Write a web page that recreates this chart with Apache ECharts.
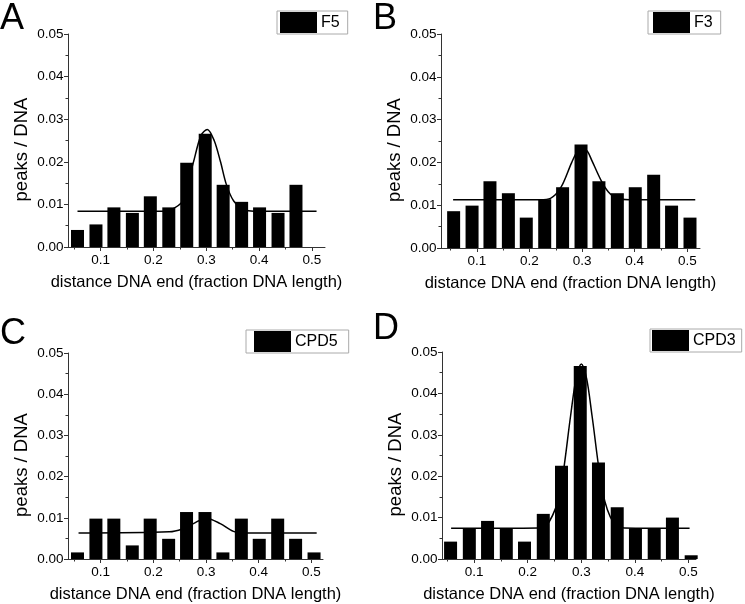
<!DOCTYPE html>
<html>
<head>
<meta charset="utf-8">
<script src="https://cdn.jsdelivr.net/npm/echarts@6/dist/echarts.min.js"></script>
<style>
  html, body { margin: 0; padding: 0; background: #fff; }
  #chart { width: 745px; height: 604px; }
</style>
</head>
<body>
<div id="chart"></div>
<script>
// bin centres (fraction of DNA length)
const binCenters = [0.056, 0.091, 0.125, 0.160, 0.194, 0.229, 0.263, 0.298, 0.332, 0.367, 0.401, 0.436, 0.470, 0.505];

const panelLetters = ['A', 'B', 'C', 'D'];
const seriesNames = ['F5', 'F3', 'CPD5', 'CPD3'];

// peaks / DNA per bin
const valuesF5 = [0.0040, 0.0053, 0.0093, 0.0080, 0.0119, 0.0093, 0.0198, 0.0266, 0.0146, 0.0106, 0.0093, 0.0080, 0.0146];
const valuesF3 = [0.0086, 0.0099, 0.0156, 0.0128, 0.0071, 0.0114, 0.0142, 0.0242, 0.0156, 0.0128, 0.0142, 0.0171, 0.0099, 0.0071];
const valuesCPD5 = [0.0016, 0.0098, 0.0098, 0.0033, 0.0098, 0.0049, 0.0114, 0.0114, 0.0016, 0.0098, 0.0049, 0.0098, 0.0049, 0.0016];
const valuesCPD3 = [0.0042, 0.0074, 0.0092, 0.0074, 0.0042, 0.0109, 0.0225, 0.0466, 0.0233, 0.0125, 0.0074, 0.0074, 0.0100, 0.0009];

// fitted curves as [x, y]
const fitF5 = [[0.056, 0.0084], [0.22, 0.0084], [0.24, 0.0092], [0.255, 0.0108], [0.275, 0.0196], [0.29, 0.0262], [0.302, 0.0276],
  [0.315, 0.0250], [0.327, 0.0200], [0.338, 0.0147], [0.352, 0.0108], [0.372, 0.0088], [0.39, 0.0084], [0.509, 0.0084]];
const fitF3 = [[0.055, 0.0113], [0.22, 0.0113], [0.24, 0.0116], [0.26, 0.0142], [0.28, 0.0199], [0.292, 0.0228], [0.30, 0.0233],
  [0.31, 0.0226], [0.318, 0.0206], [0.336, 0.0158], [0.35, 0.0131], [0.368, 0.0115], [0.39, 0.0113], [0.515, 0.0113]];
const fitCPD5 = [[0.058, 0.0063], [0.23, 0.0066], [0.255, 0.0073], [0.276, 0.0086], [0.30, 0.0099], [0.327, 0.0086],
  [0.352, 0.0067], [0.375, 0.0063], [0.51, 0.0063]];
const fitCPD3 = [[0.057, 0.0074], [0.22, 0.0075], [0.24, 0.0090], [0.26, 0.0160], [0.28, 0.0346], [0.29, 0.0435], [0.30, 0.0471],
  [0.31, 0.0435], [0.32, 0.0346], [0.34, 0.0161], [0.36, 0.0087], [0.38, 0.0075], [0.502, 0.0074]];

const xMajorTicks = [0.1, 0.2, 0.3, 0.4, 0.5];
const xMinorTicks = [0.05, 0.15, 0.25, 0.35, 0.45];

const barValues = [valuesF5, valuesF3, valuesCPD5, valuesCPD3];
const fitValues = [fitF5, fitF3, fitCPD5, fitCPD3];

// layout per panel
const grids = [
  { left: 68, top: 34, width: 257, height: 213 },
  { left: 441, top: 34, width: 259, height: 214 },
  { left: 68, top: 353, width: 255, height: 209 },
  { left: 442, top: 352, width: 254, height: 209 },
];
const xRanges = [[0.038, 0.525], [0.032, 0.524], [0.038, 0.522], [0.040, 0.514]];
const letterPos = [[0, 1], [373, 1], [0, 316], [373, 311]];
const legendPos = [
  { left: 277, top: 11, padding: [1, 8, 1, 3] },
  { left: 648, top: 11, padding: [1, 8, 1, 5] },
  { left: 246, top: 330, padding: [1, 11, 1, 8] },
  { left: 650, top: 329, padding: [1, 6, 1, 2] },
];

const FONT = '"Liberation Sans", Arial, sans-serif';
const AXIS_COLOR = '#333';

let chart = echarts.init(document.getElementById('chart'), null, { renderer: 'canvas' });

let option = {
  animation: false,
  backgroundColor: '#fff',
  textStyle: { fontFamily: FONT, color: '#000' },
  title: [],
  legend: [],
  grid: [],
  xAxis: [],
  yAxis: [],
  series: [],
};

for (let i = 0; i < 4; i++) {
  option.title.push({
    text: panelLetters[i],
    left: letterPos[i][0],
    top: letterPos[i][1],
    padding: 0,
    textStyle: { fontFamily: FONT, fontSize: 36, fontWeight: 'normal', color: '#000' },
  });

  option.legend.push({
    data: [seriesNames[i]],
    left: legendPos[i].left,
    top: legendPos[i].top,
    padding: legendPos[i].padding,
    orient: 'horizontal',
    icon: 'rect',
    itemWidth: 37,
    itemHeight: 21,
    borderColor: '#aaa',
    borderWidth: 1,
    selectedMode: false,
    textStyle: { fontFamily: FONT, fontSize: 16, color: '#000', padding: [0, 0, 0, -1] },
  });

  option.grid.push(Object.assign({ containLabel: false }, grids[i]));

  // main x axis: line, major ticks, labels, name
  option.xAxis.push({
    type: 'value',
    gridIndex: i,
    min: xRanges[i][0],
    max: xRanges[i][1],
    name: 'distance DNA end (fraction DNA length)',
    nameLocation: 'middle',
    nameGap: 27,
    nameTextStyle: { fontFamily: FONT, fontSize: 16.5, color: '#000' },
    axisLine: { show: true, onZero: false, lineStyle: { color: AXIS_COLOR, width: 1 } },
    axisTick: { show: true, inside: false, length: 4, customValues: xMajorTicks, lineStyle: { color: AXIS_COLOR } },
    axisLabel: {
      show: true,
      margin: 6,
      customValues: xMajorTicks,
      fontFamily: FONT,
      fontSize: 13.5,
      color: '#000',
      formatter: (v) => v.toFixed(1),
    },
    splitLine: { show: false },
  });
  // minor x ticks
  option.xAxis.push({
    type: 'value',
    gridIndex: i,
    position: 'bottom',
    min: xRanges[i][0],
    max: xRanges[i][1],
    axisLine: { show: false, onZero: false },
    axisTick: { show: true, inside: false, length: 2.5, customValues: xMinorTicks, lineStyle: { color: AXIS_COLOR } },
    axisLabel: { show: false },
    splitLine: { show: false },
  });

  option.yAxis.push({
    type: 'value',
    gridIndex: i,
    min: 0,
    max: 0.05,
    interval: 0.01,
    name: 'peaks / DNA',
    nameLocation: 'middle',
    nameGap: 37,
    nameTextStyle: { fontFamily: FONT, fontSize: 18.5, color: '#000', padding: [0, 18, 0, 0] },
    axisLine: { show: true, onZero: false, lineStyle: { color: AXIS_COLOR, width: 1 } },
    axisTick: { show: true, inside: false, length: 4, lineStyle: { color: AXIS_COLOR } },
    minorTick: { show: true, splitNumber: 2, length: 2.5, lineStyle: { color: AXIS_COLOR } },
    axisLabel: {
      margin: 4.5,
      fontFamily: FONT,
      fontSize: 13.5,
      color: '#000',
      formatter: (v) => v.toFixed(2),
    },
    splitLine: { show: false },
    minorSplitLine: { show: false },
  });

  let bars = barValues[i].map((v, k) => [binCenters[k], v]);
  option.series.push({
    name: seriesNames[i],
    type: 'bar',
    xAxisIndex: i * 2,
    yAxisIndex: i,
    barWidth: 13,
    data: bars,
    itemStyle: { color: '#000' },
    emphasis: { disabled: true },
  });
  option.series.push({
    name: seriesNames[i] + ' fit',
    type: 'line',
    xAxisIndex: i * 2,
    yAxisIndex: i,
    data: fitValues[i],
    smooth: 0.3,
    showSymbol: false,
    symbol: 'none',
    lineStyle: { color: '#000', width: 1.5 },
    z: 3,
  });
}

chart.setOption(option);
</script>
</body>
</html>
